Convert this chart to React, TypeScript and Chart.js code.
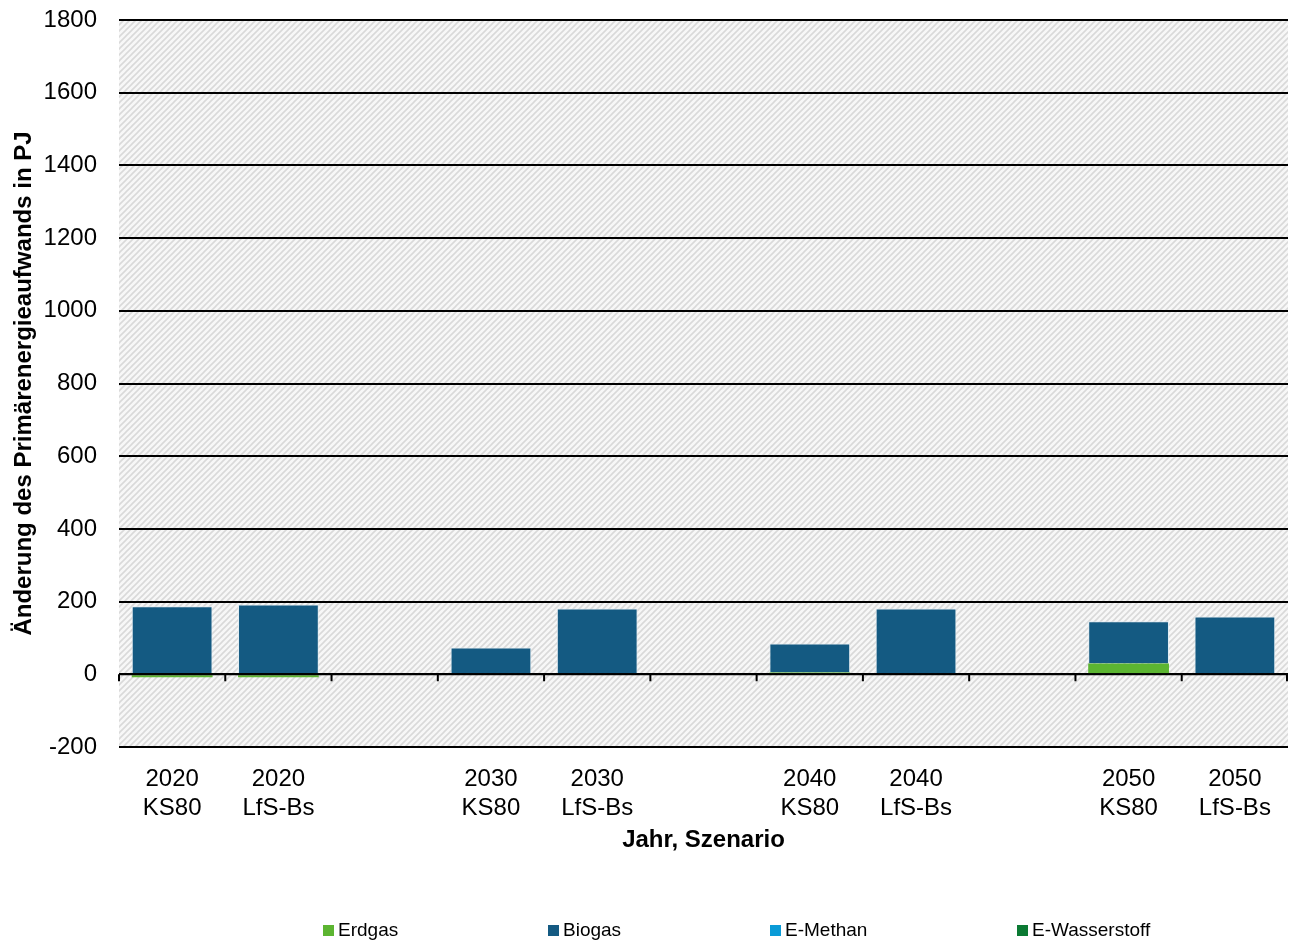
import React, { useEffect, useRef } from "react";
import { Chart, registerables } from "chart.js";

Chart.register(...registerables);

const categories: string[][] = [
  ["2020", "KS80"], ["2020", "LfS-Bs"], [""],
  ["2030", "KS80"], ["2030", "LfS-Bs"], [""],
  ["2040", "KS80"], ["2040", "LfS-Bs"], [""],
  ["2050", "KS80"], ["2050", "LfS-Bs"],
];

const erdgas = [-8, -8, null, 0, 0, null, 5, 0, null, 30, 0];
const biogas = [187, 192, null, 74, 181, null, 80, 181, null, 116, 159];
const eMethan = [0, 0, null, 0, 0, null, 0, 0, null, 0, 0];
const eWasserstoff = [0, 0, null, 0, 0, null, 0, 0, null, 0, 0];

const seriesNames = ["Erdgas", "Biogas", "E-Methan", "E-Wasserstoff"];
const seriesColors = ["#5cb531", "#145a82", "#0a9bd7", "#0b7a33"];

const yTicks = { min: -200, max: 1800, step: 200 };

const FONT = "'Liberation Sans', Arial, sans-serif";

function makeHatch(ctx: CanvasRenderingContext2D) {
  const s = 6;
  const c = document.createElement("canvas");
  c.width = s;
  c.height = s;
  const g = c.getContext("2d")!;
  g.fillStyle = "#f7f7f7";
  g.fillRect(0, 0, s, s);
  g.strokeStyle = "#d9d9d9";
  g.lineWidth = 1.6;
  g.beginPath();
  g.moveTo(-1, s + 1);
  g.lineTo(s + 1, -1);
  g.moveTo(-1, 1);
  g.lineTo(1, -1);
  g.moveTo(s - 1, s + 1);
  g.lineTo(s + 1, s - 1);
  g.stroke();
  return ctx.createPattern(c, "repeat")!;
}

const backgroundPlugin = {
  id: "hatchBackground",
  beforeDraw(chart: any) {
    const { ctx, chartArea } = chart;
    ctx.save();
    ctx.fillStyle = makeHatch(ctx);
    ctx.fillRect(chartArea.left, chartArea.top, chartArea.right - chartArea.left, chartArea.bottom - chartArea.top);
    ctx.restore();
  },
};

// zero line with category separator ticks hanging below it
const zeroAxisPlugin = {
  id: "zeroAxis",
  afterDatasetsDraw(chart: any) {
    const { ctx, chartArea } = chart;
    const y0 = chart.scales.y.getPixelForValue(0);
    const n = categories.length;
    const w = (chartArea.right - chartArea.left) / n;
    ctx.save();
    ctx.strokeStyle = "#000";
    ctx.lineWidth = 2;
    ctx.beginPath();
    ctx.moveTo(chartArea.left, y0);
    ctx.lineTo(chartArea.right, y0);
    for (let i = 0; i <= n; i++) {
      const x = Math.min(chartArea.left + i * w, chartArea.right - 1);
      ctx.moveTo(x, y0);
      ctx.lineTo(x, y0 + 7);
    }
    ctx.stroke();
    ctx.restore();
  },
};

const legendPlugin = {
  id: "bottomLegend",
  afterDraw(chart: any) {
    const { ctx, width } = chart;
    const xs = [0.2506, 0.4251, 0.5974, 0.789];
    ctx.save();
    ctx.font = `19px ${FONT}`;
    ctx.textBaseline = "middle";
    ctx.textAlign = "left";
    seriesNames.forEach((name, i) => {
      const x = Math.round(xs[i] * width);
      ctx.fillStyle = seriesColors[i];
      ctx.fillRect(x, 925, 11, 11);
      ctx.fillStyle = "#000";
      ctx.fillText(name, x + 15, 931);
    });
    ctx.restore();
  },
};

export default function App() {
  const canvasRef = useRef<HTMLCanvasElement | null>(null);

  useEffect(() => {
    if (!canvasRef.current) return;
    const data = [erdgas, biogas, eMethan, eWasserstoff];
    const chart = new Chart(canvasRef.current, {
      type: "bar",
      data: {
        labels: categories,
        datasets: seriesNames.map((name, i) => ({
          label: name,
          data: data[i],
          backgroundColor: seriesColors[i],
          borderColor: "rgba(225,236,243,0.9)",
          borderWidth: i === 0 ? 0 : 1,
          barPercentage: 0.76,
          categoryPercentage: 1,
        })),
      },
      options: {
        animation: false,
        responsive: true,
        maintainAspectRatio: false,
        layout: { padding: { top: 20, right: 1, left: 0, bottom: 0 } },
        plugins: {
          legend: { display: false },
          tooltip: { enabled: false },
        },
        scales: {
          x: {
            stacked: true,
            grid: { display: false },
            border: { display: false },
            ticks: {
              color: "#000",
              font: { family: FONT, size: 24 },
              padding: 10,
              maxRotation: 0,
              autoSkip: false,
            },
            title: {
              display: true,
              text: "Jahr, Szenario",
              color: "#000",
              font: { family: FONT, size: 24, weight: "bold" },
              padding: { top: 0, bottom: 85 },
            },
            afterFit(scale: any) {
              scale.height = 193;
            },
          },
          y: {
            stacked: true,
            min: yTicks.min,
            max: yTicks.max,
            grid: {
              color: "#000",
              lineWidth: 2,
              drawTicks: true,
              tickLength: 22,
              tickColor: "rgba(0,0,0,0)",
            },
            border: { display: false },
            ticks: {
              stepSize: yTicks.step,
              color: "#000",
              font: { family: FONT, size: 24 },
              padding: 0,
              callback: (v: any) => String(v),
            },
            title: {
              display: true,
              text: "Änderung des Primärenergieaufwands in PJ",
              color: "#000",
              font: { family: FONT, size: 24, weight: "bold" },
              padding: { top: 10, bottom: 0 },
            },
            afterFit(scale: any) {
              scale.width = 119;
            },
          },
        },
      },
      plugins: [backgroundPlugin, zeroAxisPlugin, legendPlugin],
    });
    return () => chart.destroy();
  }, []);

  return (
    <div style={{ position: "absolute", left: 0, top: 0, width: 1289, height: 940, background: "#fff" }}>
      <canvas ref={canvasRef} />
    </div>
  );
}
